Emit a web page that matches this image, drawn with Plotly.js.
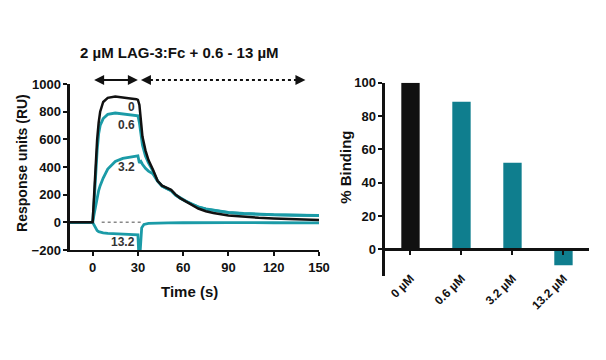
<!DOCTYPE html>
<html><head><meta charset="utf-8">
<script src="https://cdn.plot.ly/plotly-3.0.1.min.js"></script>
<style>html,body{margin:0;padding:0;background:#fff}#c{width:606px;height:360px}</style>
</head><body><div id="c"></div>
<script>
// Sensorgram (left panel)
const time = [-15,-1,0,1,2,3,4,5,7,10,15,20,25,29,30,31,32,33,35,37,40,43,46,49,52,55,58,62,66,70,75,80,90,100,110,120,135,150];
const ru0   = [0,0,0,200,420,600,720,800,870,900,910,905,895,890,885,848,700,620,520,450,380,300,265,250,235,200,175,150,125,100,80,68,50,40,33,28,22,17];
const ru06  = [0,0,0,150,350,520,640,700,750,780,790,785,780,775,770,720,620,560,480,430,370,300,262,246,230,197,175,152,130,112,97,87,72,64,59,55,52,50];
const ru32  = [0,0,0,60,120,180,230,265,320,385,440,462,472,478,480,430,440,420,390,370,350,298,262,245,228,196,173,150,128,110,95,85,70,62,57,54,51,48];
const time132 = [-15,-1,0,1,2,3,4,5,7,10,15,20,25,29,30,30.5,31.5,32.5,34,37,40,50,60,70,90,120,150];
const ru132   = [0,0,0,-20,-45,-60,-68,-72,-76,-80,-82,-84,-85,-86,-90,-210,-210,-40,-15,-8,-6,-4,-3,-2,-2,-3,-4];
const xTicks = [0,30,60,90,120,150];
const yTicks = [-200,0,200,400,600,800,1000];
const curveLabels = ["0","0.6","3.2","13.2"];
const labelT = [25.8,22.5,22.5,20.3];
const labelV = [831,703,402,-140];
// Binding (right panel)
const concs = ["0 µM","0.6 µM","3.2 µM","13.2 µM"];
const binding = [100,88.5,52,-9.5];

const BLACK = "#111111", TEAL = "#1b9ba7", BARTEAL = "#0f7e8e";
const F = {family:"Liberation Sans, Arial, sans-serif", color:"#111", size:13, weight:"bold"};

const traces = [
  {x:[6,33], y:[0,0], xaxis:"x", yaxis:"y", mode:"lines", line:{color:"#888", width:1.5, dash:"dot"}, hoverinfo:"skip"},
  {x:time132, y:ru132, xaxis:"x", yaxis:"y", mode:"lines", line:{color:TEAL, width:2.8}},
  {x:time, y:ru32, xaxis:"x", yaxis:"y", mode:"lines", line:{color:TEAL, width:2.8}},
  {x:time, y:ru06, xaxis:"x", yaxis:"y", mode:"lines", line:{color:TEAL, width:2.8}},
  {x:time, y:ru0, xaxis:"x", yaxis:"y", mode:"lines", line:{color:BLACK, width:2.5}},
  {x:concs, y:binding, xaxis:"x2", yaxis:"y2", type:"bar", width:0.36,
   marker:{color:[BLACK,BARTEAL,BARTEAL,BARTEAL], line:{width:0}}}
];

const C = {xanchor:"center", yanchor:"middle", showarrow:false};
const annotations = [
  {...C, text:"2 µM LAG-3:Fc + 0.6 - 13 µM", xref:"paper", yref:"paper", x:0.297, y:0.853, font:{...F, size:15}},
  {...C, text:"Time (s)", xref:"paper", yref:"paper", x:0.3135, y:0.189, font:{...F, size:15}},
  {...C, text:"Response units (RU)", xref:"paper", yref:"paper", x:0.036, y:0.547, textangle:-90, font:{...F, size:14}},
  {...C, text:"% Binding", xref:"paper", yref:"paper", x:0.569, y:0.536, textangle:-90, font:{...F, size:15}},
  // association arrow (solid, double headed)
  {text:"", xref:"x", yref:"paper", x:30, y:0.778, axref:"x", ax:0, ayref:"pixel", ay:0,
   showarrow:true, arrowside:"end+start", arrowhead:2, arrowsize:1, arrowwidth:2, arrowcolor:BLACK},
  // dissociation arrow heads
  {text:"", xref:"x", yref:"paper", x:141, y:0.778, ax:-6, ay:0, showarrow:true, arrowhead:2, arrowsize:1, arrowwidth:2, arrowcolor:BLACK},
  {text:"", xref:"x", yref:"paper", x:32, y:0.778, ax:6, ay:0, showarrow:true, arrowhead:2, arrowsize:1, arrowwidth:2, arrowcolor:BLACK}
];
curveLabels.forEach((t,i)=>annotations.push({...C, text:t, xref:"x", yref:"y", x:labelT[i], y:labelV[i], font:{...F, size:12, color:"#333"}}));

const layout = {
  width:606, height:360, margin:{l:0,r:0,t:0,b:0},
  paper_bgcolor:"#fff", plot_bgcolor:"#fff", showlegend:false, font:F,
  xaxis:{domain:[0.1155,0.5264], range:[-15,150], anchor:"y", tickvals:xTicks, showgrid:false, zeroline:false,
         showline:true, linewidth:2.5, linecolor:BLACK, ticks:"outside", ticklen:4, tickwidth:2, tickcolor:BLACK, tickfont:F},
  yaxis:{domain:[0.3056,0.7667], range:[-200,1000], anchor:"x", tickvals:yTicks, showgrid:false, zeroline:false,
         showline:true, linewidth:2.5, linecolor:BLACK, ticks:"outside", ticklen:4, tickwidth:2, tickcolor:BLACK, tickfont:F},
  xaxis2:{domain:[0.6353,0.9719], range:[-0.5,3.5], anchor:"free", position:0.3074, type:"category", showgrid:false, zeroline:false,
          showline:true, linewidth:2.5, linecolor:BLACK, ticks:"outside", ticklen:4, tickwidth:2, tickcolor:BLACK,
          tickangle:-45, ticklabelstandoff:12, tickfont:{...F, size:12}},
  yaxis2:{domain:[0.2333,0.7703], range:[-16,100], anchor:"x2", dtick:20, tick0:0, showgrid:false, zeroline:false,
          showline:true, linewidth:2.5, linecolor:BLACK, ticks:"outside", ticklen:4, tickwidth:2, tickcolor:BLACK, tickfont:F},
  shapes:[{type:"line", xref:"x", yref:"paper", x0:34, x1:139, y0:0.778, y1:0.778, line:{color:BLACK, width:2, dash:"dot"}}],
  annotations
};
Plotly.newPlot("c", traces, layout, {displayModeBar:false, staticPlot:true});
</script></body></html>
